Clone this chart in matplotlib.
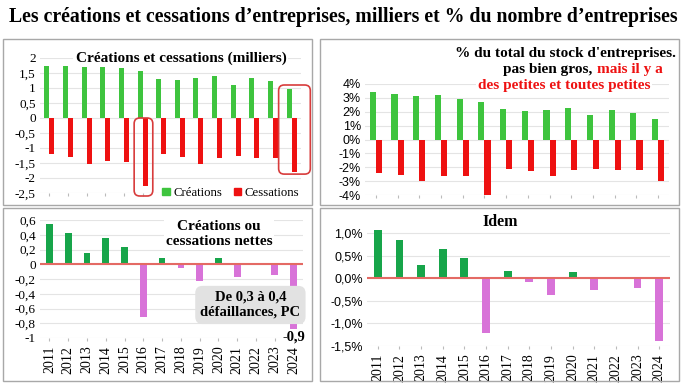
import numpy as np
import matplotlib
matplotlib.use("Agg")
import matplotlib.pyplot as plt
from matplotlib.patches import Rectangle, FancyBboxPatch, Patch
from matplotlib.font_manager import FontProperties
from matplotlib.ticker import FuncFormatter

years = [str(y) for y in range(2011, 2025)]

# milliers
creations_k = [1.75, 1.72, 1.71, 1.79, 1.68, 1.57, 1.31, 1.26, 1.32, 1.40, 1.11, 1.35, 1.22, 0.96]
cessations_k = [-1.20, -1.30, -1.54, -1.43, -1.45, -2.25, -1.19, -1.30, -1.54, -1.32, -1.26, -1.34, -1.34, -1.80]
net_k = [0.55, 0.43, 0.15, 0.36, 0.24, -0.72, 0.09, -0.05, -0.23, 0.08, -0.17, -0.01, -0.14, -0.88]

# % du stock d'entreprises
creations_pct = [3.45, 3.30, 3.17, 3.20, 2.95, 2.70, 2.19, 2.05, 2.14, 2.24, 1.74, 2.10, 1.90, 1.50]
cessations_pct = [-2.45, -2.57, -2.98, -2.64, -2.60, -4.00, -2.10, -2.24, -2.62, -2.17, -2.10, -2.19, -2.19, -2.98]
net_pct = [1.08, 0.84, 0.29, 0.66, 0.45, -1.22, 0.16, -0.07, -0.37, 0.14, -0.26, -0.01, -0.21, -1.38]

GREEN = "#3ec43e"
RED = "#ee1111"
DGREEN = "#17a54a"
PINK = "#d873d8"
GRID = "#e4e4e4"
SERIF = "Liberation Serif"
SANS = "Liberation Sans"

W, H = 684, 384
fig = plt.figure(figsize=(W / 100, H / 100), dpi=100, facecolor="white")


def px_axes(l, t, r, b):
    return fig.add_axes([l / W, 1 - b / H, (r - l) / W, (b - t) / H])


def ptext(x, y, s, **kw):
    return fig.text(x / W, 1 - y / H, s, **kw)


def frame(l, t, r, b):
    fig.patches.append(Rectangle((l / W, 1 - b / H), (r - l) / W, (b - t) / H,
                                 transform=fig.transFigure, fill=False,
                                 edgecolor="#a8a8a8", lw=1.0))


def base_style(ax, tickfont, size):
    for s in ax.spines.values():
        s.set_visible(False)
    ax.grid(axis="y", color=GRID, lw=0.8)
    ax.set_axisbelow(True)
    ax.tick_params(axis="y", length=0, pad=3, labelsize=size, labelfontfamily=tickfont)
    ax.tick_params(axis="x", length=2, color="#bbbbbb", labelsize=10, labelfontfamily=SERIF)
    ax.set_xlim(-0.5, 13.5)


def dec(v, nd=None):
    v = round(v, 2) + 0.0
    if abs(v) < 1e-9:
        v = 0.0
    s = ("%g" % v) if nd is None else ("%.*f" % (nd, v))
    return s.replace(".", ",")


frame(3, 39, 312, 205)
frame(320, 39, 679, 205)
frame(3, 208, 312, 381)
frame(320, 208, 679, 381)

ptext(343, 17, "Les créations et cessations d’entreprises, milliers et % du nombre d’entreprises",
      ha="center", va="center", fontsize=14.2, fontweight="bold", family=SERIF)

x = np.arange(len(years))

# --- top left: milliers
ax1 = px_axes(40, 58, 301, 193)
ax1.bar(x - 0.135, creations_k, 0.27, color=GREEN)
ax1.bar(x + 0.135, cessations_k, 0.27, color=RED)
ax1.set_ylim(-2.5, 2)
ax1.set_yticks(np.arange(-2.5, 2.01, 0.5))
ax1.yaxis.set_major_formatter(FuncFormatter(lambda v, p: dec(v)))
ax1.set_xticks(x)
ax1.set_xticklabels([])
base_style(ax1, SERIF, 9.5)
ax1.text(0.54, 1.0, "Créations et cessations (milliers)", transform=ax1.transAxes,
         ha="center", va="center", fontsize=11, fontweight="bold", family=SERIF,
         bbox=dict(facecolor="white", edgecolor="none", pad=1.5))
ma = (1 / 30.0) / (1 / 18.65)
for bx, by, bw, bh in [(4.55, -2.6, 1.0, 2.6), (12.3, -1.87, 1.7, 2.97)]:
    ax1.add_patch(FancyBboxPatch((bx, by), bw, bh, boxstyle="round,pad=0,rounding_size=0.3",
                                 mutation_aspect=ma, fill=False, edgecolor="#d83c3c",
                                 lw=1.2, clip_on=False, zorder=5))
leg = ax1.legend(handles=[Patch(color=GREEN, label="Créations"), Patch(color=RED, label="Cessations")],
                 loc="center right", bbox_to_anchor=(1.025, 0.0), ncol=2, frameon=True,
                 handlelength=0.55, handleheight=0.55, handletextpad=0.3, columnspacing=0.9,
                 borderpad=0.15, prop=FontProperties(family=SERIF, size=9.2))
leg.get_frame().set_edgecolor("none")
leg.get_frame().set_facecolor("white")
leg.get_frame().set_alpha(1)

# --- top right: %
ax2 = px_axes(365, 84, 669, 195)
ax2.bar(x - 0.14, creations_pct, 0.28, color=GREEN, clip_on=False)
ax2.bar(x + 0.14, cessations_pct, 0.28, color=RED, clip_on=False)
ax2.set_ylim(-4, 4)
ax2.set_yticks(np.arange(-4, 4.1, 1))
ax2.yaxis.set_major_formatter(FuncFormatter(lambda v, p: "%d%%" % round(v)))
ax2.set_xticks(x)
ax2.set_xticklabels([])
base_style(ax2, SANS, 9)
tkw = dict(fontsize=11, fontweight="bold", family=SERIF, va="center",
           bbox=dict(facecolor="white", edgecolor="none", pad=1))
ptext(565, 53, "% du total du stock d'entreprises.", ha="center", **tkw)
ptext(592, 69, "pas bien gros,", ha="right", **tkw)
ptext(597, 69, "mais il y a", ha="left", color=RED, **tkw)
ptext(564, 86, "des petites et toutes petites", ha="center", color=RED, **tkw)

# --- bottom left: net milliers
ax3 = px_axes(40, 220, 303, 338)
ax3.bar(x, net_k, 0.36, color=[DGREEN if v >= 0 else PINK for v in net_k])
ax3.axhline(0, color="#e46a64", lw=1.5)
ax3.set_ylim(-1, 0.6)
ax3.set_yticks(np.arange(-1, 0.61, 0.2))
ax3.yaxis.set_major_formatter(FuncFormatter(lambda v, p: dec(round(v, 1))))
ax3.set_xticks(x)
ax3.set_xticklabels(years, rotation=90)
base_style(ax3, SERIF, 9.5)
ax3.text(0.68, 0.88, "Créations ou\ncessations nettes", transform=ax3.transAxes,
         ha="center", va="center", fontsize=11, fontweight="bold", family=SERIF,
         linespacing=1.2, bbox=dict(facecolor="white", edgecolor="none", pad=1))
ax3.text(0.80, 0.28, "De 0,3 à 0,4\ndéfaillances, PC", transform=ax3.transAxes,
         ha="center", va="center", fontsize=10.5, fontweight="bold", family=SERIF,
         linespacing=1.2, zorder=6,
         bbox=dict(boxstyle="round,pad=0.35,rounding_size=0.5", facecolor="#e2e2e2", edgecolor="none"))
ax3.annotate(dec(round(net_k[-1], 1)), (x[-1], net_k[-1]), xytext=(0, -1),
             textcoords="offset points", ha="center", va="top", fontsize=10.5,
             fontweight="bold", family=SERIF, annotation_clip=False, zorder=6)

# --- bottom right: net %
ax4 = px_axes(367, 222, 670, 346)
ax4.bar(x, net_pct, 0.36, color=[DGREEN if v >= 0 else PINK for v in net_pct])
ax4.axhline(0, color="#e46a64", lw=1.5)
ax4.set_ylim(-1.5, 1.25)
ax4.set_yticks(np.arange(-1.5, 1.01, 0.5))
ax4.yaxis.set_major_formatter(FuncFormatter(lambda v, p: dec(v, 1) + "%"))
ax4.set_xticks(x)
ax4.set_xticklabels(years, rotation=90)
base_style(ax4, SANS, 9)
ax4.text(0.44, 1.0, "Idem", transform=ax4.transAxes, ha="center", va="center",
         fontsize=11.5, fontweight="bold", family=SERIF)

fig.savefig("out.png", dpi=100, facecolor="white")
